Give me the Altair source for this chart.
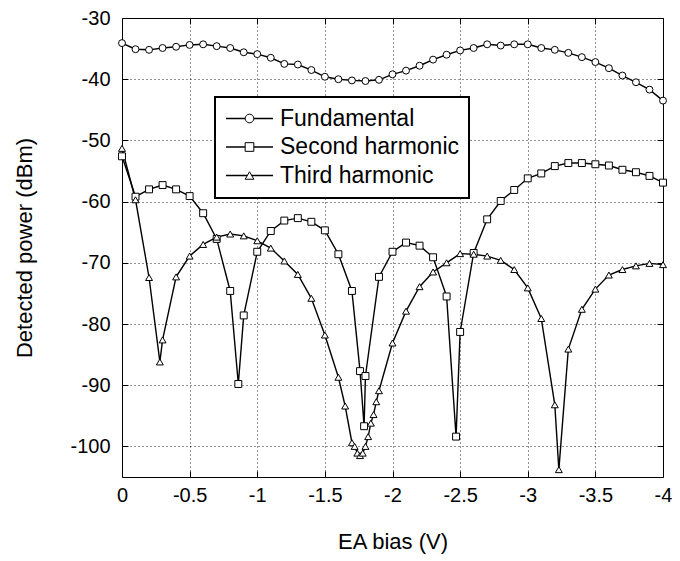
import altair as alt
import pandas as pd

FONT = "Liberation Sans"

# ---------------- data ----------------
fund_x = [0, -0.1, -0.2, -0.3, -0.4, -0.5, -0.6, -0.7, -0.8, -0.9, -1.0,
          -1.1, -1.2, -1.3, -1.4, -1.5, -1.6, -1.7, -1.8, -1.9, -2.0,
          -2.1, -2.2, -2.3, -2.4, -2.5, -2.6, -2.7, -2.8, -2.9, -3.0,
          -3.1, -3.2, -3.3, -3.4, -3.5, -3.6, -3.7, -3.8, -3.9, -4.0]
fund_y = [-34.1, -35.1, -35.2, -34.9, -34.7, -34.4, -34.3, -34.6, -34.9, -35.6, -35.9,
          -36.5, -37.5, -37.6, -38.5, -39.6, -40.0, -40.2, -40.3, -40.1, -39.2,
          -38.6, -37.8, -36.8, -36.0, -35.3, -34.9, -34.3, -34.5, -34.3, -34.3,
          -34.9, -35.2, -35.7, -36.4, -37.2, -38.2, -39.4, -40.5, -41.7, -43.5]

second_x = [0, -0.1, -0.2, -0.3, -0.4, -0.5, -0.6, -0.7, -0.8, -0.86, -0.9, -1.0,
            -1.1, -1.2, -1.3, -1.4, -1.5, -1.6, -1.7, -1.76, -1.79, -1.8, -1.9, -2.0,
            -2.1, -2.2, -2.3, -2.4, -2.47, -2.5, -2.6, -2.7, -2.8, -2.9, -3.0,
            -3.1, -3.2, -3.3, -3.4, -3.5, -3.6, -3.7, -3.8, -3.9, -4.0]
second_y = [-52.6, -59.2, -58.0, -57.3, -58.0, -59.1, -61.9, -66.1, -74.6, -89.8, -78.6, -68.2,
            -64.8, -63.1, -62.7, -63.3, -64.7, -68.6, -74.6, -87.7, -96.7, -88.5, -72.3, -68.2,
            -66.7, -67.2, -69.1, -75.5, -98.4, -81.3, -68.4, -62.9, -59.9, -58.1, -56.2,
            -55.4, -54.2, -53.7, -53.7, -53.9, -54.1, -54.8, -55.2, -55.8, -56.9]

third_x = [0, -0.1, -0.2, -0.28, -0.3, -0.4, -0.5, -0.6, -0.7, -0.8, -0.9, -1.0,
           -1.1, -1.2, -1.3, -1.4, -1.5, -1.6, -1.65, -1.7, -1.72, -1.74, -1.76, -1.78,
           -1.8, -1.82, -1.84, -1.86, -1.88, -1.9, -2.0, -2.1, -2.2, -2.3, -2.4, -2.5,
           -2.6, -2.7, -2.8, -2.9, -3.0, -3.1, -3.2, -3.23, -3.3, -3.4, -3.5, -3.6,
           -3.7, -3.8, -3.9, -4.0]
third_y = [-51.3, -59.7, -72.4, -86.2, -82.6, -72.3, -68.9, -67.0, -65.8, -65.3, -65.6, -66.4,
           -67.6, -69.7, -71.9, -75.8, -81.8, -88.7, -93.4, -99.4, -100.0, -101.1, -101.5, -101.1,
           -100.0, -98.4, -96.2, -94.8, -92.7, -90.9, -83.1, -77.9, -73.9, -71.5, -70.0, -68.5,
           -68.6, -68.9, -69.6, -71.1, -74.1, -79.1, -93.2, -103.8, -84.1, -77.6, -74.3, -72.0,
           -71.1, -70.5, -70.1, -70.3]

series_names = ["Fundamental", "Second harmonic", "Third harmonic"]
x_ticks = [0, -0.5, -1, -1.5, -2, -2.5, -3, -3.5, -4]
y_ticks = [-30, -40, -50, -60, -70, -80, -90, -100]

rows = []
for name, xs, ys in zip(series_names, [fund_x, second_x, third_x], [fund_y, second_y, third_y]):
    for i, (xv, yv) in enumerate(zip(xs, ys)):
        rows.append({"series": name, "x": xv, "y": yv, "order": i})
df = pd.DataFrame(rows)

# ---------------- chart ----------------
x_scale = alt.Scale(domain=[-4, 0], reverse=True, nice=False, zero=False)
y_scale = alt.Scale(domain=[-105, -30], nice=False, zero=False)

common = dict(domain=False, offset=-6, tickSize=6, tickColor="black", tickWidth=1,
              labelFont=FONT, labelFontSize=20, labelColor="black",
              titleFont=FONT, titleFontSize=22, titleColor="black", titleFontWeight="normal")

x_axis = alt.Axis(values=x_ticks, title="EA bias (V)", labelExpr="'' + datum.value",
                  labelFlush=False, labelPadding=8, titlePadding=26,
                  grid=True, gridColor="black", gridDash=[1, 3], gridWidth=1, gridOpacity=0.85,
                  **common)
y_axis = alt.Axis(values=y_ticks, title="Detected power (dBm)", labelExpr="'' + datum.value",
                  labelFlush=False, labelPadding=12, titlePadding=33,
                  grid=True, gridColor="black", gridDash=[1, 3], gridWidth=1, gridOpacity=0.85,
                  **common)
x_axis_top = alt.Axis(values=x_ticks, title=None, labels=False, orient="top", grid=False,
                      domain=False, offset=-6, tickSize=6, tickColor="black", tickWidth=1)
y_axis_right = alt.Axis(values=y_ticks, title=None, labels=False, orient="right", grid=False,
                        domain=False, offset=-6, tickSize=6, tickColor="black", tickWidth=1)

# shared legend geometry (two legends overlaid: line samples + markers)
LEG = dict(title=None, orient="none", legendX=93, legendY=79, padding=10, rowPadding=4.5,
           symbolSize=75, symbolOffset=13, labelOffset=19,
           labelFont=FONT, labelFontSize=23, labelLimit=400)
LINE_PATH = "M-5.43,0L5.43,0"

base = alt.Chart(df)

lines = base.mark_line(strokeWidth=1.4).encode(
    x=alt.X("x:Q", scale=x_scale, axis=x_axis),
    y=alt.Y("y:Q", scale=y_scale, axis=y_axis),
    color=alt.Color("series:N",
                    scale=alt.Scale(domain=series_names, range=["black", "black", "black"]),
                    legend=alt.Legend(symbolType=LINE_PATH, symbolStrokeWidth=1.4,
                                      labelColor="black",
                                      strokeColor="black", fillColor="white", **LEG)),
    order="order:Q",
)

points = base.mark_point(filled=True, fill="white", stroke="black", strokeWidth=1, size=48, opacity=1).encode(
    x=alt.X("x:Q", scale=x_scale, axis=x_axis_top),
    y=alt.Y("y:Q", scale=y_scale, axis=y_axis_right),
    shape=alt.Shape("series:N", scale=alt.Scale(range=["circle", "square", "triangle-up"]),
                    legend=alt.Legend(symbolStrokeWidth=1, labelOpacity=0, **LEG)),
)

chart = alt.layer(lines, points).resolve_axis(
    x="independent", y="independent"
).properties(
    width=541, height=459,
    autosize=alt.AutoSizeParams(type="none"),
    padding={"left": 114, "top": 10, "right": 9, "bottom": 80},
).configure_view(
    stroke="black", strokeWidth=1
).configure_legend(
    strokeWidth=2
)

chart.save("out.html", embed_options={"renderer": "svg", "actions": False})
